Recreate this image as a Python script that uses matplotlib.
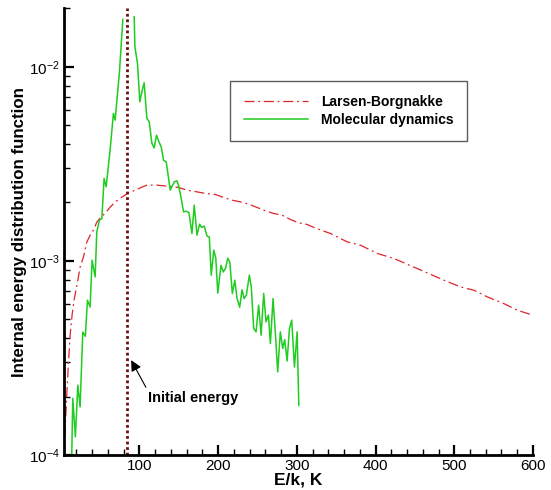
import numpy as np
import matplotlib

matplotlib.use("Agg")
import matplotlib.pyplot as plt
from matplotlib.ticker import LogLocator, MultipleLocator, NullFormatter, LogFormatterMathtext

# Larsen-Borgnakke model curve (E/k in K, distribution value)
lb_energy = [
    4.3, 6.2, 8.1, 10.1, 12.0, 14.5, 17.0, 20.9, 24.7, 28.9, 33.2, 37.4, 41.6, 45.9,
    50.1, 56.5, 62.8, 69.2, 77.7, 85.8, 94.7, 103.2, 109.5, 122.3, 135.0, 143.4, 149.7,
    160.4, 173.2, 183.7, 196.4, 207.0, 217.7, 228.2, 238.8, 249.5, 260.1, 270.6, 281.3,
    291.9, 302.4, 313.1, 323.7, 342.7, 364.0, 380.9, 402.2, 423.3, 444.5, 465.8, 486.9,
    508.1, 525.1, 542.1, 563.2, 580.3, 593.0, 600.0,
]
lb_value = [
    1.0e-4, 1.51e-4, 2.16e-4, 3.08e-4, 4.14e-4, 5.25e-4, 6.27e-4, 7.58e-4, 9.28e-4,
    1.045e-3, 1.249e-3, 1.357e-3, 1.439e-3, 1.583e-3, 1.660e-3, 1.761e-3, 1.891e-3,
    2.008e-3, 2.130e-3, 2.234e-3, 2.314e-3, 2.398e-3, 2.456e-3, 2.456e-3, 2.427e-3,
    2.406e-3, 2.389e-3, 2.314e-3, 2.268e-3, 2.226e-3, 2.200e-3, 2.122e-3, 2.055e-3,
    2.014e-3, 1.960e-3, 1.885e-3, 1.810e-3, 1.755e-3, 1.720e-3, 1.634e-3, 1.570e-3,
    1.541e-3, 1.475e-3, 1.384e-3, 1.253e-3, 1.205e-3, 1.092e-3, 1.029e-3, 9.45e-4,
    8.67e-4, 7.95e-4, 7.34e-4, 7.06e-4, 6.52e-4, 6.02e-4, 5.57e-4, 5.36e-4, 5.25e-4,
]

# molecular dynamics histogram (nan = bin at the initial energy, off scale)
md_energy = [
    14.1, 15.4, 18.7, 21.8, 24.7, 28.1, 31.4, 34.0, 37.4, 39.9, 43.8, 45.9, 49.2, 52.3,
    55.2, 57.8, 62.8, 67.0, 69.2, 74.7, 79.0, 84.0, 93.4, 94.3, 97.6, 100.6, 103.6,
    106.1, 109.5, 112.5, 115.9, 118.8, 121.8, 124.8, 127.7, 130.7, 134.1, 139.2, 144.3,
    147.7, 149.7, 152.8, 156.1, 159.5, 163.0, 166.8, 169.7, 173.2, 176.5, 179.0, 182.4,
    185.9, 188.8, 191.3, 194.5, 197.1, 199.6, 203.7, 206.6, 209.5, 212.3, 214.9, 218.1,
    221.2, 224.0, 227.4, 230.4, 233.1, 235.9, 239.7, 242.2, 245.2, 248.2, 251.5, 254.6,
    257.9, 260.9, 263.9, 266.4, 269.8, 272.8, 275.7, 279.1, 282.1, 284.6, 287.7, 290.6,
    293.5, 297.0, 300.4, 302.5,
]
md_value = [
    1.0e-4, 1.96e-4, 1.24e-4, 2.29e-4, 1.77e-4, 4.30e-4, 4.09e-4, 6.27e-4, 5.79e-4,
    1.008e-3, 8.27e-4, 1.41e-3, 1.62e-3, 1.65e-3, 2.66e-3, 2.41e-3, 3.72e-3, 5.75e-3,
    5.31e-3, 9.42e-3, 1.755e-2, np.nan, 1.81e-2, 1.268e-2, 1.041e-2, 6.60e-3, 7.58e-3,
    8.27e-3, 5.42e-3, 5.21e-3, 4.03e-3, 3.82e-3, 4.44e-3, 4.11e-3, 3.87e-3, 3.30e-3,
    3.24e-3, 2.314e-3, 2.554e-3, 2.585e-3, 2.456e-3, 2.137e-3, 1.789e-3, 1.804e-3,
    1.768e-3, 1.384e-3, 1.937e-3, 1.357e-3, 1.546e-3, 1.487e-3, 1.510e-3, 1.341e-3,
    1.329e-3, 8.44e-4, 1.136e-3, 1.032e-3, 6.82e-4, 9.50e-4, 8.77e-4, 9.17e-4, 1.032e-3,
    9.85e-4, 6.79e-4, 7.95e-4, 6.42e-4, 5.77e-4, 7.10e-4, 6.40e-4, 6.66e-4, 8.44e-4,
    7.32e-4, 4.48e-4, 4.31e-4, 5.91e-4, 4.14e-4, 6.79e-4, 4.85e-4, 5.25e-4, 3.75e-4,
    6.40e-4, 4.22e-4, 2.68e-4, 4.31e-4, 3.54e-4, 3.93e-4, 3.05e-4, 4.48e-4, 4.95e-4,
    2.84e-4, 4.31e-4, 1.80e-4,
]

initial_energy = 84.0
arrow_tip = (89.6, 3.08e-4)
label_pos = (111.0, 1.96e-4)

plt.rcParams.update(
    {
        "font.family": ["Liberation Sans", "DejaVu Sans"],
        "mathtext.fontset": "custom",
        "mathtext.rm": "Liberation Sans",
        "mathtext.it": "Liberation Sans:italic",
        "mathtext.bf": "Liberation Sans:bold",
    }
)

fig = plt.figure(figsize=(5.51, 4.90), dpi=100)
ax = fig.add_axes([0.1158, 0.0714, 0.8515, 0.9116])

ax.plot(lb_energy, lb_value, color="#e0242b", linewidth=0.9,
        linestyle=(0, (8, 3, 1.5, 3)), label="Larsen-Borgnakke")
ax.plot(md_energy, md_value, color="#1fcc1f", linewidth=1.1, label="Molecular dynamics")
ax.axvline(initial_energy, color="#6b0f0f", linewidth=2.0, linestyle=(0, (1, 1)))

ax.annotate(
    "Initial energy",
    xy=arrow_tip,
    xytext=label_pos,
    ha="left",
    va="center",
    fontsize=10.5,
    fontweight="bold",
    arrowprops=dict(arrowstyle="-|>", color="black", lw=0.8, mutation_scale=16,
                    relpos=(0.0, 1.0), shrinkA=1, shrinkB=0),
)

ax.set_yscale("log")
ax.set_xlim(4, 600)
ax.set_ylim(1e-4, 2e-2)

ax.xaxis.set_major_locator(MultipleLocator(100))
ax.xaxis.set_minor_locator(MultipleLocator(20))
ax.yaxis.set_major_locator(LogLocator(base=10))
ax.yaxis.set_minor_locator(LogLocator(base=10, subs=np.arange(2, 10)))
ax.yaxis.set_major_formatter(LogFormatterMathtext())
ax.yaxis.set_minor_formatter(NullFormatter())

for side in ("top", "right"):
    ax.spines[side].set_visible(False)
for side in ("left", "bottom"):
    ax.spines[side].set_linewidth(2.0)

ax.tick_params(which="major", direction="in", length=7, width=1.6, labelsize=11, pad=3)
ax.tick_params(which="minor", direction="in", length=4.5, width=1.0)

ax.set_xlabel("E/k, K", fontsize=12.5, fontweight="bold", labelpad=-0.5)
ax.set_ylabel("Internal energy distribution function", fontsize=12.2, fontweight="bold", labelpad=1)

leg = ax.legend(
    loc="upper left",
    bbox_to_anchor=(0.355, 0.837),
    prop={"weight": "bold", "size": 10},
    frameon=True,
    fancybox=False,
    edgecolor="#333333",
    handlelength=4.6,
    handletextpad=0.9,
    labelspacing=0.3,
    borderpad=1.0,
    borderaxespad=0,
)
leg.get_frame().set_linewidth(1.0)

fig.savefig("out.png", dpi=100)
